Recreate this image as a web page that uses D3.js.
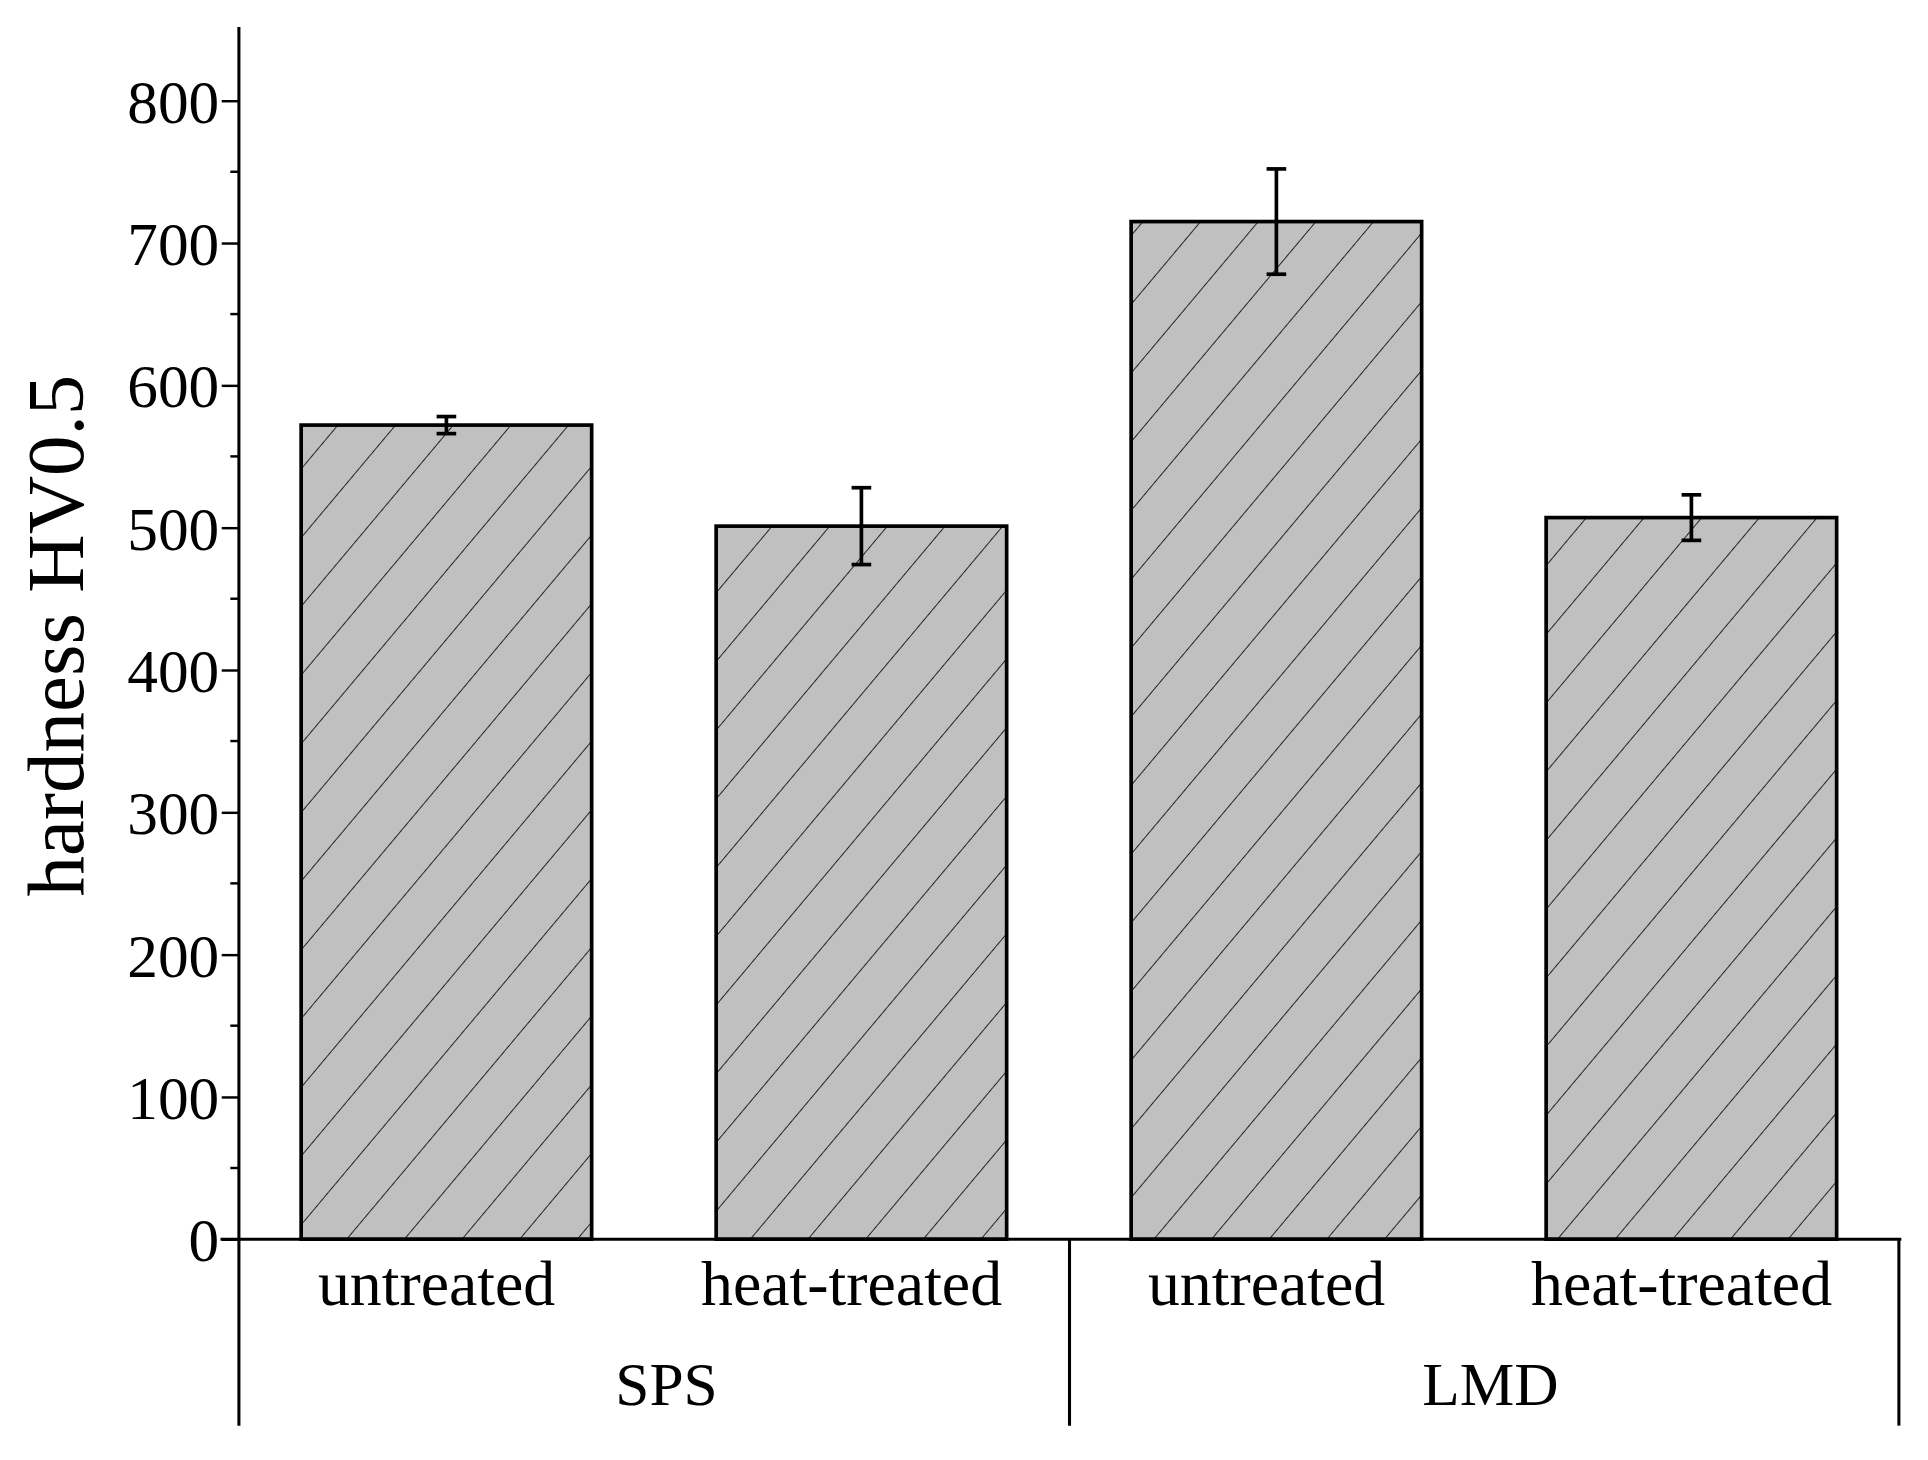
<!DOCTYPE html><html><head><meta charset="utf-8"><script src="https://cdn.jsdelivr.net/npm/d3@7"></script>
<style>body{margin:0;background:#fff}</style></head><body><script>
const groups=["SPS","LMD"];
const categories=["untreated","heat-treated","untreated","heat-treated"];
const values=[572,501,715,507];
const errors=[6,27,37,16];
const yTicks=[0,100,200,300,400,500,600,700,800];
const W=1568,H=1190;
const svg=d3.select("body").append("svg").attr("width",1928).attr("height",1460).attr("viewBox",`0 0 ${W} ${H}`);
const font="'Liberation Serif','DejaVu Serif',serif";
const defs=svg.append("defs");
const pat=defs.append("pattern").attr("id","hatch").attr("patternUnits","userSpaceOnUse").attr("width",36).attr("height",36).attr("patternTransform","rotate(40)");
pat.append("rect").attr("width",36).attr("height",36).attr("fill","#c0c0c0");
pat.append("line").attr("x1",0).attr("y1",0).attr("x2",0).attr("y2",36).attr("stroke","#222").attr("stroke-width",1.6);
const y=d3.scaleLinear().domain([0,800]).range([1010,82]);
const x=d3.scaleBand().domain(d3.range(4)).range([193,1546]).paddingInner(0.3).paddingOuter(0.15);
svg.selectAll("rect.bar").data(values).join("rect").attr("class","bar")
 .attr("x",(d,i)=>x(i)).attr("width",x.bandwidth()).attr("y",d=>y(d)).attr("height",d=>y(0)-y(d))
 .attr("fill","url(#hatch)").attr("stroke","#000").attr("stroke-width",3);
values.forEach((v,i)=>{const cx=x(i)+x.bandwidth()/2,e=errors[i];
 svg.append("line").attr("x1",cx).attr("x2",cx).attr("y1",y(v+e)).attr("y2",y(v-e)).attr("stroke","#000").attr("stroke-width",3);
 [v+e,v-e].forEach(t=>svg.append("line").attr("x1",cx-8).attr("x2",cx+8).attr("y1",y(t)).attr("y2",y(t)).attr("stroke","#000").attr("stroke-width",3));});
const ax=svg.append("g").attr("transform","translate(193,0)").call(d3.axisLeft(y).tickValues(yTicks).tickSize(14).tickPadding(2));
ax.select(".domain").remove();
ax.selectAll("line").attr("stroke-width",2);
ax.selectAll("text").attr("font-family",font).attr("font-size",50).attr("fill","#000").attr("dy","0.35em");
svg.append("g").attr("transform","translate(193,0)").selectAll("line").data(d3.range(50,850,100)).join("line")
 .attr("x1",-7).attr("x2",0).attr("y1",d=>y(d)).attr("y2",d=>y(d)).attr("stroke","#000").attr("stroke-width",2);
svg.append("line").attr("x1",193).attr("x2",193).attr("y1",22).attr("y2",1162).attr("stroke","#000").attr("stroke-width",2.5);
svg.append("line").attr("x1",178).attr("x2",1548).attr("y1",1010).attr("y2",1010).attr("stroke","#000").attr("stroke-width",2.5);
[870,1546].forEach(xx=>svg.append("line").attr("x1",xx).attr("x2",xx).attr("y1",1010).attr("y2",1162).attr("stroke","#000").attr("stroke-width",2.5));
categories.forEach((c,i)=>svg.append("text").attr("x",x(i)+x.bandwidth()/2-8).attr("y",1064).attr("text-anchor","middle").attr("font-family",font).attr("font-size",52).text(c));
const gc=[(193+870)/2+10,(870+1546)/2+5];
groups.forEach((g,i)=>svg.append("text").attr("x",gc[i]).attr("y",1145).attr("text-anchor","middle").attr("font-family",font).attr("font-size",50).text(g));
svg.append("text").attr("transform","translate(66,518) rotate(-90)").attr("text-anchor","middle").attr("font-family",font).attr("font-size",66).text("hardness HV0.5");
</script></body></html>
